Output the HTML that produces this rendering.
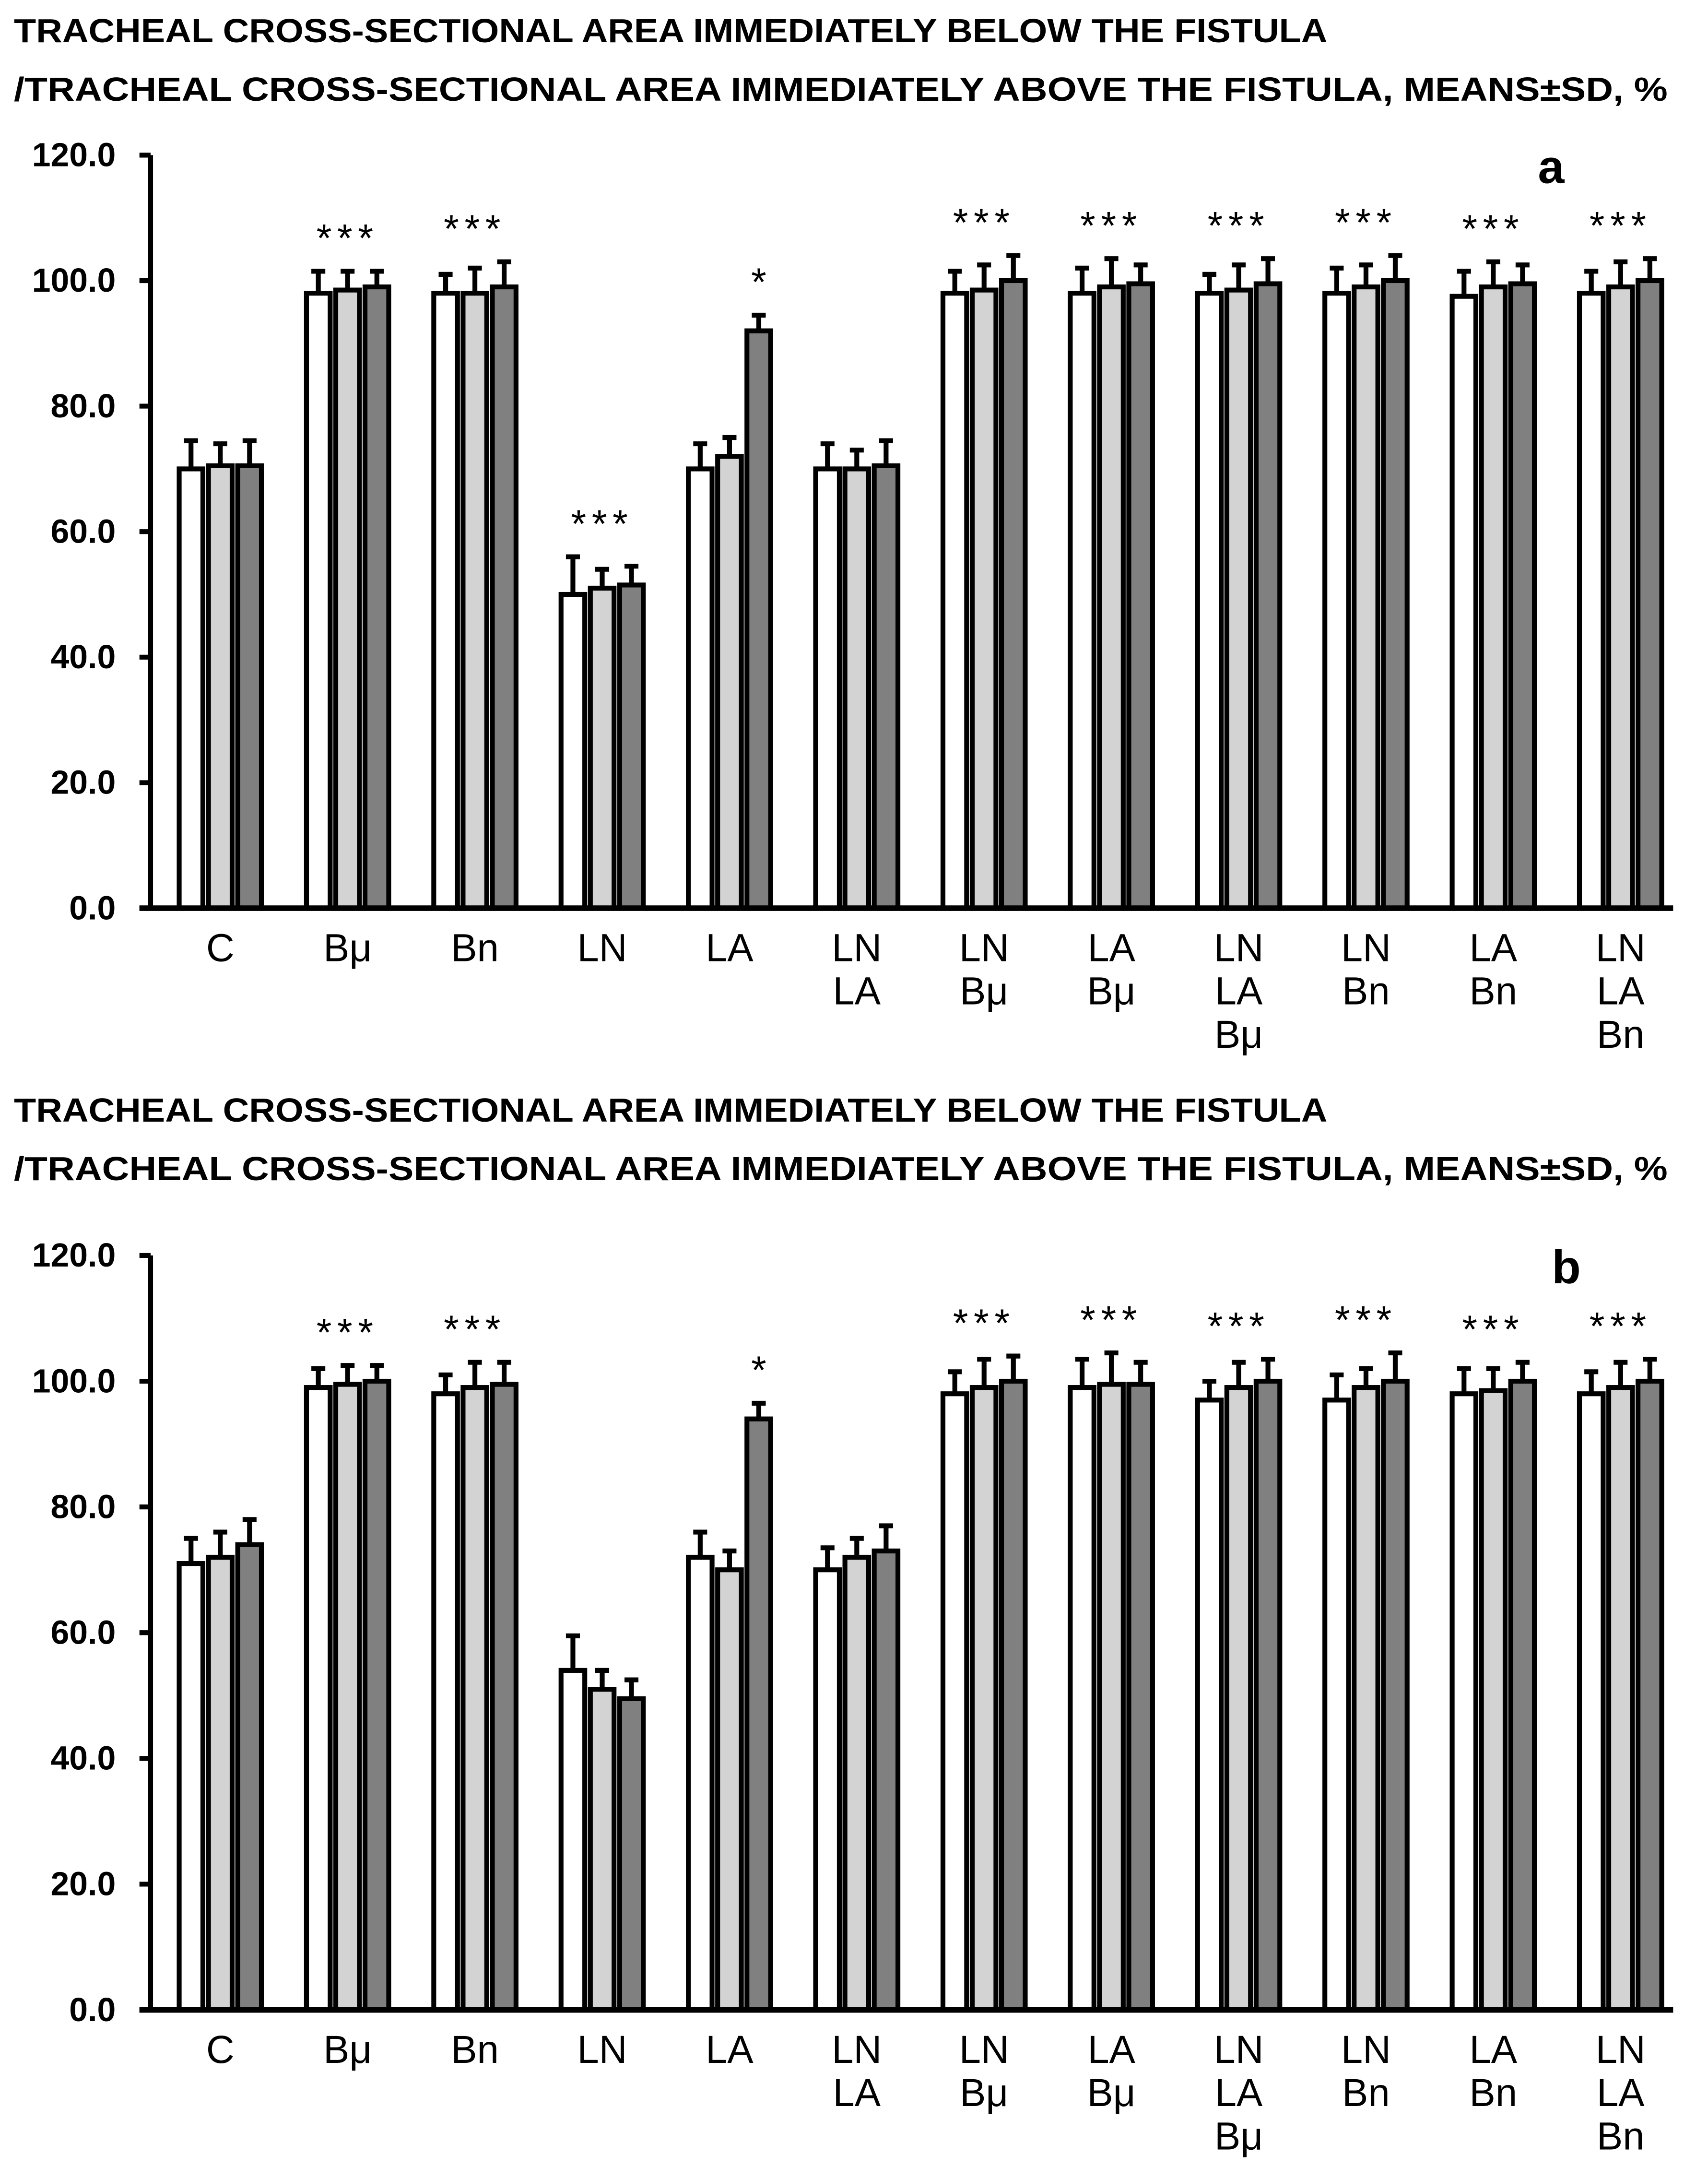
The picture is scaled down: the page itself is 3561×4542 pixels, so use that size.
<!DOCTYPE html>
<html><head><meta charset="utf-8"><style>
html,body{margin:0;padding:0;background:#fff;}
svg{display:block;}
</style></head><body>
<svg id="fig" xmlns="http://www.w3.org/2000/svg" width="3561" height="4542" viewBox="0 0 1225 1562">
<rect x="0" y="0" width="1225" height="1562" fill="#fff"/>
</svg>
<script>
const categories = [["C"],["Bμ"],["Bn"],["LN"],["LA"],["LN","LA"],["LN","Bμ"],["LA","Bμ"],["LN","LA","Bμ"],["LN","Bn"],["LA","Bn"],["LN","LA","Bn"]];
const yTicks = [0,20,40,60,80,100,120];
const tickLabels = ["0.0","20.0","40.0","60.0","80.0","100.0","120.0"];
// Panel a
const aWhite = [70,98,98,50,70,70,98,98,98,98,97.5,98];
const aLight = [70.5,98.5,98,51,72,70,98.5,99,98.5,99,99,99];
const aDark  = [70.5,99,99,51.5,92,70.5,100,99.5,99.5,100,99.5,100];
const aWhiteSD = [4.5,3.5,3,6,4,4,3.5,4,3,4,4,3.5];
const aLightSD = [3.5,3,4,3,3,3,4,4.5,4,3.5,4,4];
const aDarkSD  = [4,2.5,4,3,2.5,4,4,3,4,4,3,3.5];
const aStars = ["","***","***","***","*","","***","***","***","***","***","***"];
// Panel b
const bWhite = [71,99,98,54,72,70,98,99,97,97,98,98];
const bLight = [72,99.5,99,51,70,72,99,99.5,99,99,98.5,99];
const bDark  = [74,100,99.5,49.5,94,73,100,99.5,100,100,100,100];
const bWhiteSD = [4,3,3,5.5,4,3.5,3.5,4.5,3,4,4,3.5];
const bLightSD = [4,3,4,3,3,3,4.5,5,4,3,3.5,4];
const bDarkSD  = [4,2.5,3.5,3,2.5,4,4,3.5,3.5,4.5,3,3.5];
const bStars = ["","***","***","","*","","***","***","***","***","***","***"];

const NS="http://www.w3.org/2000/svg";
const svg=document.getElementById('fig');
function mk(tag,attrs,parent){const e=document.createElementNS(NS,tag);for(const k in attrs)e.setAttribute(k,attrs[k]);(parent||svg).appendChild(e);return e;}

function panel(cfg){
  const g=mk('g',{});
  
  
  const y0=cfg.y0, y120=cfg.y120;
  const ys=v=>y0-(y0-y120)*v/120;
  const xc=i=>158+i*91.3;
  const t1=mk('text',{x:10,y:cfg.titleY,'font-family':'Liberation Sans, sans-serif','font-weight':'bold','font-size':24,textLength:942,lengthAdjust:'spacingAndGlyphs'},g);
  t1.textContent='TRACHEAL CROSS-SECTIONAL AREA IMMEDIATELY BELOW THE FISTULA';
  
  
  const t2=mk('text',{x:10,y:cfg.titleY+42,'font-family':'Liberation Sans, sans-serif','font-weight':'bold','font-size':24,textLength:1186,lengthAdjust:'spacingAndGlyphs'},g);
  t2.textContent='/TRACHEAL CROSS-SECTIONAL AREA IMMEDIATELY ABOVE THE FISTULA, MEANS±SD, %';
  
  
  const pl=mk('text',{x:cfg.letterX,y:y120+20,'font-family':'Liberation Sans, sans-serif','font-weight':'bold','font-size':34},g);
  pl.textContent=cfg.id;
  
  
  const ya=mk('line',{x1:108,y1:y120,x2:108,y2:y0+1.5,stroke:'#000','stroke-width':3.5},g);
  
  
  yTicks.forEach((v,i)=>{
    const tk=mk('line',{x1:100,x2:108,y1:ys(v),y2:ys(v),stroke:'#000','stroke-width':3.5},g);
    
    
    const tl=mk('text',{x:83,y:ys(v)+8,'text-anchor':'end','font-family':'Liberation Sans, sans-serif','font-weight':'bold','font-size':24},g);
    tl.textContent=tickLabels[i];
    
    
  });
  const series=[[cfg.w,cfg.wsd,'#ffffff'],[cfg.l,cfg.lsd,'#d3d3d3'],[cfg.d,cfg.dsd,'#808080']];
  const bw=17, step=21;
  categories.forEach((lab,i)=>{
    let maxTop=0;
    series.forEach((s,k)=>{
      const cx=xc(i)+(k-1)*step;
      const v=s[0][i], sd=s[1][i];
      const top=v+sd; if(top>maxTop)maxTop=top;
      const eb=mk('path',{d:`M${cx} ${ys(v)} V${ys(top)} M${cx-5} ${ys(top)} H${cx+5}`,stroke:'#000','stroke-width':3.5,fill:'none'},g);
      
      
      const r=mk('rect',{x:cx-bw/2,y:ys(v),width:bw,height:y0-ys(v),fill:s[2],stroke:'#000','stroke-width':3.5},g);
      
      
    });
    const st=cfg.stars[i];
    if(st){
      const sx= st.length===1 ? xc(i)+step : xc(i);
      const stt=mk('text',{x:sx,y:ys(maxTop)-14,'text-anchor':'middle','font-family':'Liberation Sans, sans-serif','font-size':28,'letter-spacing':st.length>1?4:0},g);
      stt.textContent=st;
      
      
    }
    lab.forEach((line,j)=>{
      const ct=mk('text',{x:xc(i),y:y0+38+j*31,'text-anchor':'middle','font-family':'Liberation Sans, sans-serif','font-size':28},g);
      ct.textContent=line;
      
      
    });
  });
  const xa=mk('line',{x1:100,y1:y0,x2:1200,y2:y0,stroke:'#000','stroke-width':4},g);
  
  
}
panel({id:'a',titleY:30,y0:651,y120:111,letterX:1103,w:aWhite,l:aLight,d:aDark,wsd:aWhiteSD,lsd:aLightSD,dsd:aDarkSD,stars:aStars});
panel({id:'b',titleY:804,y0:1441,y120:900,letterX:1113,w:bWhite,l:bLight,d:bDark,wsd:bWhiteSD,lsd:bLightSD,dsd:bDarkSD,stars:bStars});
</script>
</body></html>
